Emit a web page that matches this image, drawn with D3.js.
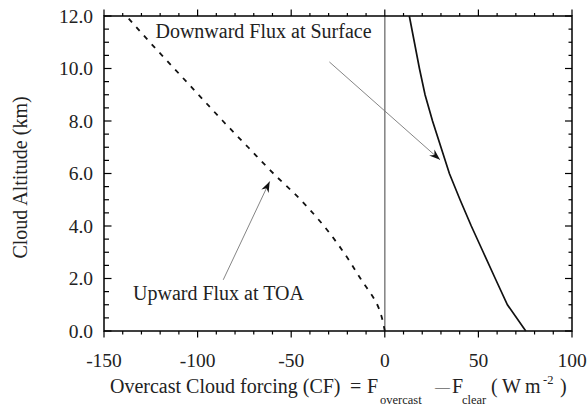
<!DOCTYPE html>
<html>
<head>
<meta charset="utf-8">
<script src="https://cdn.jsdelivr.net/npm/d3@7"></script>
<style>
  html, body { margin: 0; padding: 0; background: #fff; }
  svg { display: block; }
  text { font-family: "Liberation Serif", "Times New Roman", serif; fill: #222; }
</style>
</head>
<body>
<div id="chart"></div>
<script>
// ---- data ----
const altitude    = [0, 1, 2, 3, 4, 5, 6, 7, 8, 9, 10, 11, 12];           // km
const downSurface = [75.3, 65.5, 59, 52.6, 46.2, 40.2, 34.5, 30, 25.5, 21.5, 18.5, 15.8, 13.1];
const upTOA       = [0, -4, -13, -22, -32.5, -45, -59.5, -73, -86.5, -99.5, -112.5, -125.5, -138];
const xTicks = [-150, -100, -50, 0, 50, 100];
const yTicks = [0, 2, 4, 6, 8, 10, 12];

const W = 588, H = 406;
const m = { left: 104, right: 16, top: 16, bottom: 75 };
const iw = W - m.left - m.right, ih = H - m.top - m.bottom;

const svg = d3.select("#chart").append("svg").attr("width", W).attr("height", H);
const g = svg.append("g").attr("transform", `translate(${m.left},${m.top})`);

const x = d3.scaleLinear().domain([-150, 100]).range([0, iw]);
const y = d3.scaleLinear().domain([0, 12]).range([ih, 0]);

// zero line
g.append("line").attr("x1", x(0)).attr("x2", x(0)).attr("y1", 0).attr("y2", ih)
  .attr("stroke", "#888").attr("stroke-width", 1.6);

const minorX = d3.range(-150, 100.001, 10);
const minorY = d3.range(0, 12.001, 0.5);
function isMajor(v, step) { return Math.abs(v / step - Math.round(v / step)) < 1e-6; }

// bottom axis (outward ticks)
const axBottom = g.append("g").attr("transform", `translate(0,${ih})`);
axBottom.selectAll("line").data(minorX).join("line")
  .attr("x1", d => x(d)).attr("x2", d => x(d)).attr("y1", 0)
  .attr("y2", d => isMajor(d, 50) ? 6.5 : 3.5).attr("stroke", "#000").attr("stroke-width", 1.2);
axBottom.selectAll("text").data(xTicks).join("text")
  .attr("x", d => x(d)).attr("y", 36).attr("text-anchor", "middle")
  .attr("font-size", 19.5).text(d => d);

// top axis (outward ticks)
const axTop = g.append("g");
axTop.selectAll("line").data(minorX).join("line")
  .attr("x1", d => x(d)).attr("x2", d => x(d)).attr("y1", 0)
  .attr("y2", d => isMajor(d, 50) ? -6.5 : -3).attr("stroke", "#000").attr("stroke-width", 1.2);

// left axis (inward ticks)
const axLeft = g.append("g");
axLeft.selectAll("line").data(minorY).join("line")
  .attr("y1", d => y(d)).attr("y2", d => y(d)).attr("x1", 0)
  .attr("x2", d => isMajor(d, 2) ? 7.5 : 5).attr("stroke", "#000").attr("stroke-width", 1.2);
axLeft.selectAll("text").data(yTicks).join("text")
  .attr("x", -11).attr("y", d => y(d)).attr("dy", "0.35em").attr("text-anchor", "end")
  .attr("font-size", 19.5).text(d => d.toFixed(1));

// right axis (inward ticks)
const axRight = g.append("g").attr("transform", `translate(${iw},0)`);
axRight.selectAll("line").data(minorY).join("line")
  .attr("y1", d => y(d)).attr("y2", d => y(d)).attr("x1", 0)
  .attr("x2", d => isMajor(d, 2) ? -7 : -3.5).attr("stroke", "#000").attr("stroke-width", 1.2);

// frame
g.append("rect").attr("x", 0).attr("y", 0).attr("width", iw).attr("height", ih)
  .attr("fill", "none").attr("stroke", "#000").attr("stroke-width", 1.5);

// curves
const lineLin = d3.line().x(d => x(d)).y((d, i) => y(altitude[i]));
const lineSmooth = d3.line().x(d => x(d)).y((d, i) => y(altitude[i])).curve(d3.curveMonotoneY);
g.append("path").datum(downSurface).attr("d", lineLin)
  .attr("fill", "none").attr("stroke", "#111").attr("stroke-width", 1.7);
g.append("path").datum(upTOA).attr("d", lineSmooth)
  .attr("fill", "none").attr("stroke", "#111").attr("stroke-width", 1.8)
  .attr("stroke-dasharray", "5,6.5");

// arrow marker
const defs = svg.append("defs");
defs.append("marker").attr("id", "ah").attr("viewBox", "-12 -6 14 12")
  .attr("refX", 0).attr("refY", 0).attr("markerWidth", 14).attr("markerHeight", 12)
  .attr("markerUnits", "userSpaceOnUse").attr("orient", "auto")
  .append("path").attr("d", "M0,0 L-11,-4 L-7.5,0 L-11,4 Z").attr("fill", "#111");

// annotations (data coords)
const annDown = { tx: -122.5, ty: 11.15, label: "Downward Flux at Surface", ax: [-29.6, 10.25], ah: [29.5, 6.52] };
const annUp   = { tx: -134.5, ty: 1.18, label: "Upward Flux at TOA", ax: [-86.3, 1.95], ah: [-61.5, 5.7] };

[annDown, annUp].forEach(a => {
  g.append("text").attr("x", x(a.tx)).attr("y", y(a.ty)).attr("font-size", 20).text(a.label);
  g.append("line").attr("x1", x(a.ax[0])).attr("y1", y(a.ax[1]))
    .attr("x2", x(a.ah[0])).attr("y2", y(a.ah[1]))
    .attr("stroke", "#777").attr("stroke-width", 0.9).attr("marker-end", "url(#ah)");
});

// axis titles
svg.append("text").attr("transform", `translate(27,${m.top + ih / 2 + 4}) rotate(-90)`)
  .attr("text-anchor", "middle").attr("font-size", 20).text("Cloud Altitude (km)");

const xlab = svg.append("g").attr("font-size", 20);
const base = 393;
xlab.append("text").attr("x", 110).attr("y", base).text("Overcast Cloud forcing (CF)");
xlab.append("text").attr("x", 350).attr("y", base).text("=");
xlab.append("text").attr("x", 367).attr("y", base).text("F");
xlab.append("text").attr("x", 380).attr("y", base + 11).attr("font-size", 12.5).text("overcast");
xlab.append("text").attr("x", 435).attr("y", base - 1).attr("font-size", 15).text("—");
xlab.append("text").attr("x", 452).attr("y", base).text("F");
xlab.append("text").attr("x", 462).attr("y", base + 11).attr("font-size", 12.5).text("clear");
xlab.append("text").attr("x", 491).attr("y", base).text("(");
xlab.append("text").attr("x", 502).attr("y", base).text("W");
xlab.append("text").attr("x", 525).attr("y", base).text("m");
xlab.append("text").attr("x", 543).attr("y", base - 9).attr("font-size", 12.5).text("-2");
xlab.append("text").attr("x", 560).attr("y", base).text(")");
</script>
</body>
</html>
